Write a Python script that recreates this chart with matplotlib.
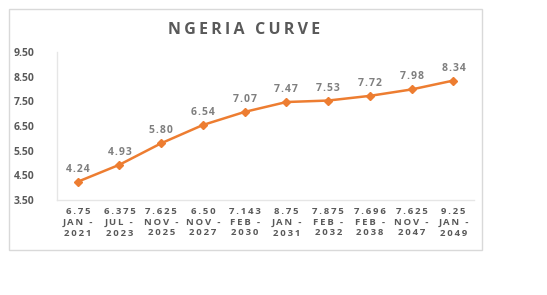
import matplotlib.pyplot as plt
from matplotlib.patches import Rectangle

# ========== DATA ========== #
coupons = ["6.75", "6.375", "7.625", "6.50", "7.143", "8.75", "7.875", "7.696", "7.625", "9.25"]
months = ["JAN -", "JUL -", "NOV -", "NOV -", "FEB -", "JAN -", "FEB -", "FEB -", "NOV -", "JAN -"]
years = ["2021", "2023", "2025", "2027", "2030", "2031", "2032", "2038", "2047", "2049"]
yields = [4.24, 4.93, 5.80, 6.54, 7.07, 7.47, 7.53, 7.72, 7.98, 8.34]
y_ticks = [3.50, 4.50, 5.50, 6.50, 7.50, 8.50, 9.50]

TITLE = "NGERIA CURVE"
LINE_COLOR = "#ED7D31"
TEXT_COLOR = "#595959"
LABEL_COLOR = "#7F7F7F"
FONT = ["Open Sans", "DejaVu Sans"]


def spaced(s, gap="\u200a"):
    # mimic the wide letter spacing of the original labels
    return gap.join(s)


labels = ["\n".join(spaced(p, "\u2009") for p in trio) for trio in zip(coupons, months, years)]

# ========== PLOT ========== #
fig = plt.figure(figsize=(5.47, 2.95), dpi=100)
fig.patch.set_facecolor("white")

# chart border
fig.patches.append(Rectangle((0.016, 0.153), 0.865, 0.817, transform=fig.transFigure,
                             fill=False, edgecolor="#D9D9D9", linewidth=1))

ax = fig.add_axes([0.104, 0.322, 0.763, 0.502])
x = list(range(len(yields)))
ax.plot(x, yields, color=LINE_COLOR, linewidth=1.8, marker="D", markersize=4.5)

for xi, v in zip(x, yields):
    ax.annotate(spaced(f"{v:.2f}"), (xi, v), xytext=(0, 5), textcoords="offset points",
                ha="center", va="bottom", fontsize=7.5, color=LABEL_COLOR,
                family=FONT, fontweight="bold")

ax.set_xlim(-0.5, len(yields) - 0.5)
ax.set_ylim(3.5, 9.5)
ax.set_yticks(y_ticks)
ax.set_yticklabels([f"{t:.2f}" for t in y_ticks], fontsize=7.5, color=TEXT_COLOR,
                   family=FONT, fontweight="bold")
ax.set_xticks(x)
ax.set_xticklabels(labels, fontsize=6.8, color=TEXT_COLOR, family=FONT,
                   fontweight="bold", linespacing=1.25)
ax.tick_params(axis="both", length=0)
ax.tick_params(axis="y", pad=16)
ax.tick_params(axis="x", pad=5)

for side in ["top", "right"]:
    ax.spines[side].set_visible(False)
for side in ["left", "bottom"]:
    ax.spines[side].set_color("#E6E6E6")
    ax.spines[side].set_linewidth(1)

fig.text(0.447, 0.9, spaced(TITLE, "\u2009"), ha="center", va="center", fontsize=11.5,
         color=TEXT_COLOR, family=FONT, fontweight="bold")

plt.savefig("out.png", dpi=100)
plt.close()
